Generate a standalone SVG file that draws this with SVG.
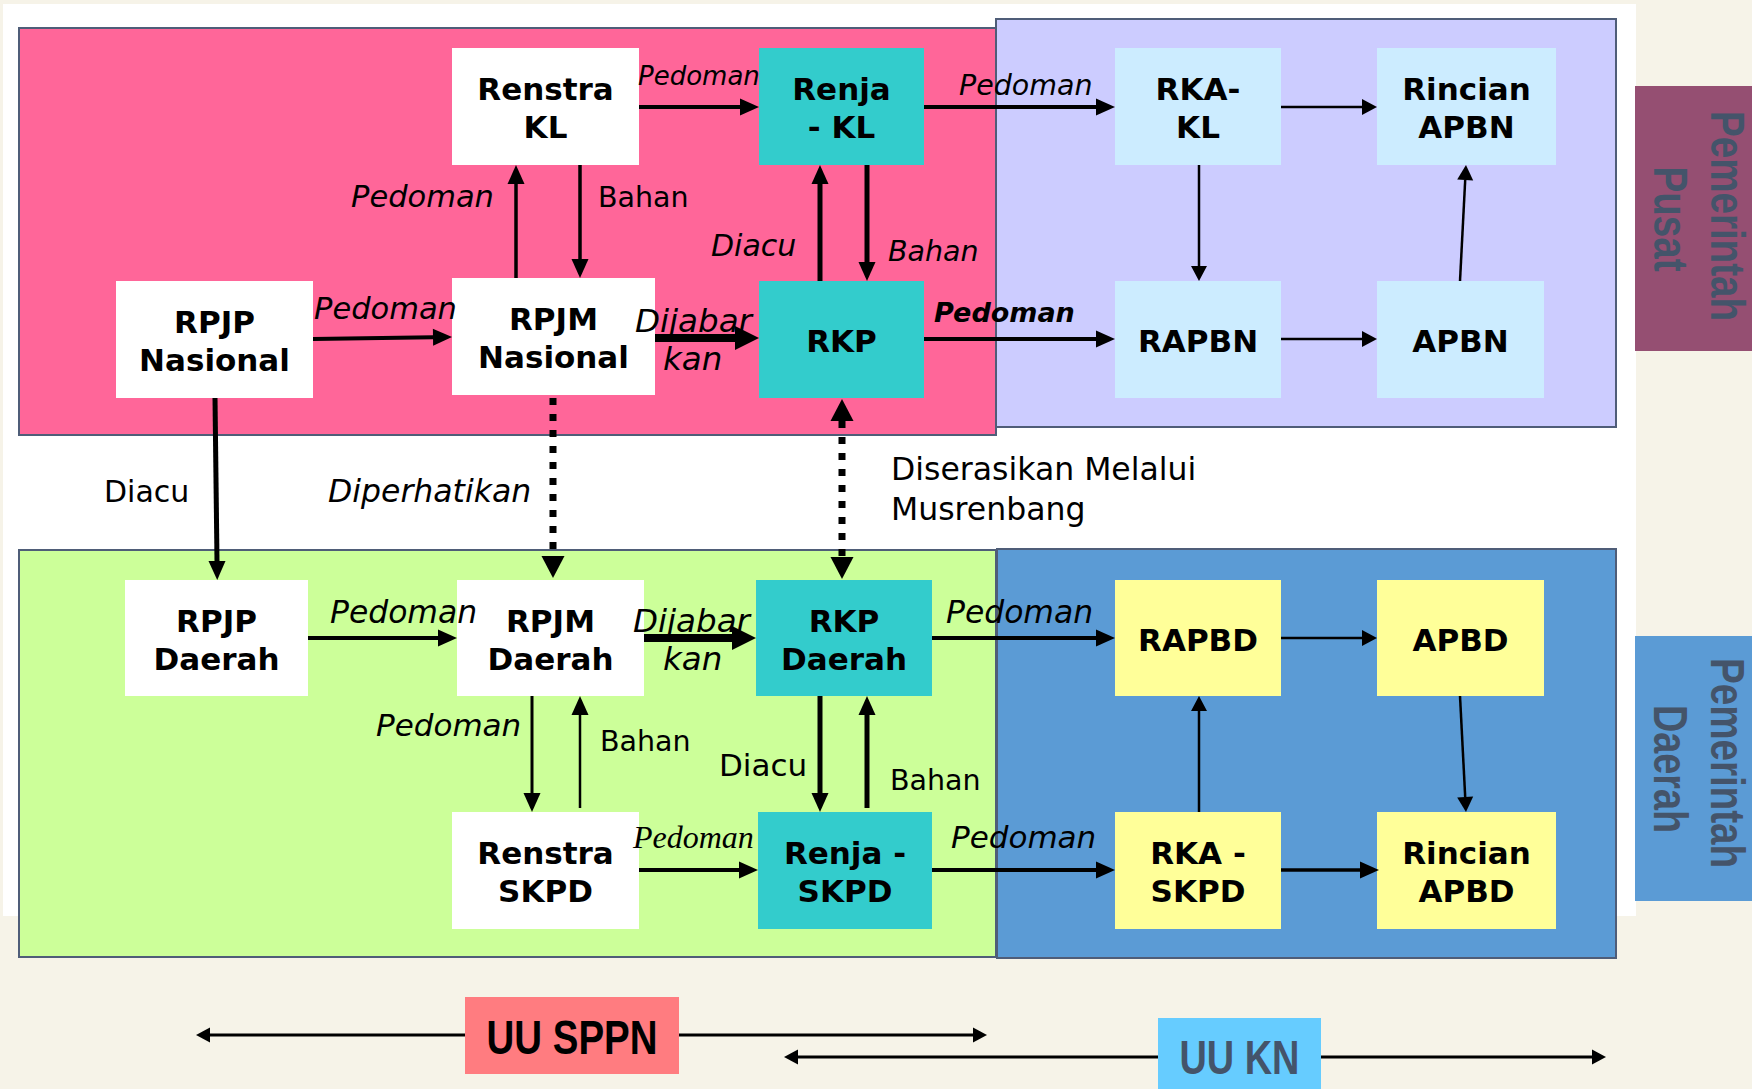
<svg xmlns="http://www.w3.org/2000/svg" width="1752" height="1089" viewBox="0 0 1752 1089">
<style>
.region{stroke:#4f5d78;stroke-width:2}
.node text{font-family:"DejaVu Sans",Verdana,sans-serif;font-weight:bold;font-size:31px;fill:#000;text-anchor:middle}
.lbl{font-family:"DejaVu Sans",Verdana,sans-serif;fill:#000}
.it{font-style:italic}
.ln{stroke:#000;fill:none}
.side{font-family:"Liberation Sans",Arial,sans-serif;font-weight:bold;font-size:48px;fill:#44546A;text-anchor:middle}
.uu{font-family:"Liberation Sans",Arial,sans-serif;font-weight:bold;font-size:49px;text-anchor:middle}
</style>
<defs>
<marker id="am" markerUnits="userSpaceOnUse" markerWidth="19" markerHeight="17" refX="0" refY="8.5" orient="auto" overflow="visible"><path d="M0,0 L19,8.5 L0,17 z" fill="#000"/></marker>
<marker id="as" markerUnits="userSpaceOnUse" markerWidth="15" markerHeight="16" refX="0" refY="8" orient="auto" overflow="visible"><path d="M0,0 L15,8 L0,16 z" fill="#000"/></marker>
<marker id="al" markerUnits="userSpaceOnUse" markerWidth="24" markerHeight="24" refX="0" refY="12" orient="auto" overflow="visible"><path d="M0,0 L24,12 L0,24 z" fill="#000"/></marker>
<marker id="ad" markerUnits="userSpaceOnUse" markerWidth="22" markerHeight="23" refX="0" refY="11.5" orient="auto-start-reverse" overflow="visible"><path d="M0,0 L22,11.5 L0,23 z" fill="#000"/></marker>
<marker id="au" markerUnits="userSpaceOnUse" markerWidth="14" markerHeight="15" refX="0" refY="7.5" orient="auto" overflow="visible"><path d="M0,0 L14,7.5 L0,15 z" fill="#000"/></marker>
</defs>
<rect x="0" y="0" width="1752" height="1089" fill="#F6F3E8"/>
<rect x="3" y="4" width="1633" height="912" fill="#FFFFFF"/>

<g id="region-pusat-sppn"><rect class="region" x="19" y="28" width="977" height="407" fill="#FF6699"/></g>
<g id="region-pusat-kn"><rect class="region" x="996" y="19" width="620" height="408" fill="#CCCCFF"/></g>
<g id="region-daerah-sppn"><rect class="region" x="19" y="550" width="977" height="407" fill="#CCFF99"/></g>
<g id="region-daerah-kn"><rect class="region" x="997" y="549" width="619" height="409" fill="#5B9BD5"/></g>

<g id="label-pusat"><rect x="1635" y="86" width="117" height="265" fill="#954F72"/>
<text class="side" transform="translate(1711,216) rotate(90)" textLength="210" lengthAdjust="spacingAndGlyphs">Pemerintah</text>
<text class="side" transform="translate(1654,219) rotate(90)" textLength="105" lengthAdjust="spacingAndGlyphs">Pusat</text></g>
<g id="label-daerah"><rect x="1635" y="636" width="117" height="265" fill="#5B9BD5"/>
<text class="side" transform="translate(1711,763) rotate(90)" textLength="210" lengthAdjust="spacingAndGlyphs">Pemerintah</text>
<text class="side" transform="translate(1654,769) rotate(90)" textLength="128" lengthAdjust="spacingAndGlyphs">Daerah</text></g>

<g id="renstra-kl" class="node"><rect x="452" y="48" width="187" height="117" fill="#FFFFFF"/><text x="545.5" y="100">Renstra</text><text x="545.5" y="138">KL</text></g>
<g id="renja-kl" class="node"><rect x="759" y="48" width="165" height="117" fill="#33CCCC"/><text x="841.5" y="100">Renja</text><text x="841.5" y="138">- KL</text></g>
<g id="rpjp-nasional" class="node"><rect x="116" y="281" width="197" height="117" fill="#FFFFFF"/><text x="214.5" y="333">RPJP</text><text x="214.5" y="371">Nasional</text></g>
<g id="rpjm-nasional" class="node"><rect x="452" y="278" width="203" height="117" fill="#FFFFFF"/><text x="553.5" y="330">RPJM</text><text x="553.5" y="368">Nasional</text></g>
<g id="rkp" class="node"><rect x="759" y="281" width="165" height="117" fill="#33CCCC"/><text x="841.5" y="352">RKP</text></g>
<g id="rka-kl" class="node"><rect x="1115" y="48" width="166" height="117" fill="#CCECFF"/><text x="1198" y="100">RKA-</text><text x="1198" y="138">KL</text></g>
<g id="rincian-apbn" class="node"><rect x="1377" y="48" width="179" height="117" fill="#CCECFF"/><text x="1466.5" y="100">Rincian</text><text x="1466.5" y="138">APBN</text></g>
<g id="rapbn" class="node"><rect x="1115" y="281" width="166" height="117" fill="#CCECFF"/><text x="1198" y="352">RAPBN</text></g>
<g id="apbn" class="node"><rect x="1377" y="281" width="167" height="117" fill="#CCECFF"/><text x="1460.5" y="352">APBN</text></g>

<g id="rpjp-daerah" class="node"><rect x="125" y="580" width="183" height="116" fill="#FFFFFF"/><text x="216.5" y="632">RPJP</text><text x="216.5" y="670">Daerah</text></g>
<g id="rpjm-daerah" class="node"><rect x="457" y="580" width="187" height="116" fill="#FFFFFF"/><text x="550.5" y="632">RPJM</text><text x="550.5" y="670">Daerah</text></g>
<g id="rkp-daerah" class="node"><rect x="756" y="580" width="176" height="116" fill="#33CCCC"/><text x="844" y="632">RKP</text><text x="844" y="670">Daerah</text></g>
<g id="rapbd" class="node"><rect x="1115" y="580" width="166" height="116" fill="#FFFF99"/><text x="1198" y="651">RAPBD</text></g>
<g id="apbd" class="node"><rect x="1377" y="580" width="167" height="116" fill="#FFFF99"/><text x="1460.5" y="651">APBD</text></g>
<g id="renstra-skpd" class="node"><rect x="452" y="812" width="187" height="117" fill="#FFFFFF"/><text x="545.5" y="864">Renstra</text><text x="545.5" y="902">SKPD</text></g>
<g id="renja-skpd" class="node"><rect x="758" y="812" width="174" height="117" fill="#33CCCC"/><text x="845" y="864">Renja -</text><text x="845" y="902">SKPD</text></g>
<g id="rka-skpd" class="node"><rect x="1115" y="812" width="166" height="117" fill="#FFFF99"/><text x="1198" y="864">RKA -</text><text x="1198" y="902">SKPD</text></g>
<g id="rincian-apbd" class="node"><rect x="1377" y="812" width="179" height="117" fill="#FFFF99"/><text x="1466.5" y="864">Rincian</text><text x="1466.5" y="902">APBD</text></g>

<g id="connectors">
<line class="ln" x1="639" y1="107" x2="740" y2="107" stroke-width="4" marker-end="url(#am)"/>
<line class="ln" x1="924" y1="107" x2="1096" y2="107" stroke-width="4" marker-end="url(#am)"/>
<line class="ln" x1="1281" y1="107" x2="1362" y2="107" stroke-width="2.5" marker-end="url(#as)"/>
<line class="ln" x1="1199" y1="165" x2="1199" y2="266" stroke-width="2.5" marker-end="url(#as)"/>
<line class="ln" x1="1460" y1="281" x2="1465.2" y2="180" stroke-width="2.5" marker-end="url(#as)"/>
<line class="ln" x1="1281" y1="339" x2="1362" y2="339" stroke-width="2.5" marker-end="url(#as)"/>
<line class="ln" x1="924" y1="339" x2="1096" y2="339" stroke-width="4" marker-end="url(#am)"/>
<line class="ln" x1="313" y1="339" x2="433" y2="337.3" stroke-width="4" marker-end="url(#am)"/>
<line class="ln" x1="655" y1="338" x2="735" y2="338" stroke-width="8" marker-end="url(#al)"/>
<line class="ln" x1="516" y1="278" x2="516" y2="184" stroke-width="3.5" marker-end="url(#am)"/>
<line class="ln" x1="580" y1="165" x2="580" y2="259" stroke-width="3.5" marker-end="url(#am)"/>
<line class="ln" x1="820" y1="281" x2="820" y2="184" stroke-width="5" marker-end="url(#am)"/>
<line class="ln" x1="867" y1="165" x2="867" y2="262" stroke-width="5" marker-end="url(#am)"/>
<line class="ln" x1="215" y1="398" x2="217" y2="561" stroke-width="5" marker-end="url(#am)"/>
<line class="ln" x1="553" y1="398" x2="553" y2="556" stroke-width="7" stroke-dasharray="7 9" marker-end="url(#ad)"/>
<line class="ln" x1="842" y1="421" x2="842" y2="557" stroke-width="7" stroke-dasharray="7 9" marker-start="url(#ad)" marker-end="url(#ad)"/>
<line class="ln" x1="308" y1="638" x2="438" y2="638" stroke-width="4" marker-end="url(#am)"/>
<line class="ln" x1="644" y1="638" x2="732" y2="638" stroke-width="8" marker-end="url(#al)"/>
<line class="ln" x1="932" y1="638" x2="1096" y2="638" stroke-width="4" marker-end="url(#am)"/>
<line class="ln" x1="1281" y1="638" x2="1362" y2="638" stroke-width="2.5" marker-end="url(#as)"/>
<line class="ln" x1="1460" y1="696" x2="1465.2" y2="797" stroke-width="2.5" marker-end="url(#as)"/>
<line class="ln" x1="1199" y1="812" x2="1199" y2="711" stroke-width="2.5" marker-end="url(#as)"/>
<line class="ln" x1="1281" y1="870" x2="1360" y2="870" stroke-width="3.5" marker-end="url(#am)"/>
<line class="ln" x1="932" y1="870" x2="1096" y2="870" stroke-width="4" marker-end="url(#am)"/>
<line class="ln" x1="639" y1="870" x2="739" y2="870" stroke-width="4" marker-end="url(#am)"/>
<line class="ln" x1="532" y1="696" x2="532" y2="793" stroke-width="3" marker-end="url(#am)"/>
<line class="ln" x1="580" y1="808" x2="580" y2="715" stroke-width="2.5" marker-end="url(#am)"/>
<line class="ln" x1="820" y1="696" x2="820" y2="793" stroke-width="5" marker-end="url(#am)"/>
<line class="ln" x1="867" y1="808" x2="867" y2="715" stroke-width="5" marker-end="url(#am)"/>
<line class="ln" x1="465" y1="1035" x2="210" y2="1035" stroke-width="3" marker-end="url(#au)"/>
<line class="ln" x1="679" y1="1035" x2="973" y2="1035" stroke-width="3" marker-end="url(#au)"/>
<line class="ln" x1="1158" y1="1057" x2="798" y2="1057" stroke-width="3" marker-end="url(#au)"/>
<line class="ln" x1="1321" y1="1057" x2="1592" y2="1057" stroke-width="3" marker-end="url(#au)"/>
</g>

<g id="labels">
<text class="lbl it" x="638" y="85" style="font-size:26px">Pedoman</text>
<text class="lbl it" x="959" y="95" style="font-size:28.5px">Pedoman</text>
<text class="lbl it" x="934" y="322" style="font-size:27px;font-weight:bold">Pedoman</text>
<text class="lbl it" x="314" y="319" style="font-size:30.5px">Pedoman</text>
<text class="lbl it" x="351" y="207" style="font-size:30.5px">Pedoman</text>
<text class="lbl" x="598" y="207" style="font-size:28.5px">Bahan</text>
<text class="lbl it" x="711" y="256" style="font-size:30px">Diacu</text>
<text class="lbl it" x="888" y="261" style="font-size:28.5px">Bahan</text>
<text class="lbl it" x="635" y="332" style="font-size:32.5px">Dijabar</text>
<text class="lbl it" x="663" y="370" style="font-size:32.5px">kan</text>
<text class="lbl" x="104" y="502" style="font-size:30px">Diacu</text>
<text class="lbl it" x="328" y="502" style="font-size:31.5px">Diperhatikan</text>
<text class="lbl" x="891" y="480" style="font-size:31.5px">Diserasikan Melalui</text>
<text class="lbl" x="891" y="520" style="font-size:31.5px">Musrenbang</text>
<text class="lbl it" x="330" y="623" style="font-size:31.4px">Pedoman</text>
<text class="lbl it" x="633" y="632" style="font-size:32.5px">Dijabar</text>
<text class="lbl it" x="663" y="670" style="font-size:32.5px">kan</text>
<text class="lbl it" x="946" y="623" style="font-size:31.4px">Pedoman</text>
<text class="lbl it" x="376" y="736" style="font-size:31px">Pedoman</text>
<text class="lbl" x="600" y="751" style="font-size:28.5px">Bahan</text>
<text class="lbl" x="719" y="776" style="font-size:31px">Diacu</text>
<text class="lbl" x="890" y="790" style="font-size:28.5px">Bahan</text>
<text x="633" y="848" style="font-family:'Liberation Serif','Times New Roman',serif;font-style:italic;font-size:32px">Pedoman</text>
<text class="lbl it" x="951" y="848" style="font-size:31px">Pedoman</text>
</g>

<g id="uu-sppn"><rect x="465" y="997" width="214" height="77" fill="#FF7C80"/><text class="uu" x="572" y="1054" fill="#000" textLength="171" lengthAdjust="spacingAndGlyphs">UU SPPN</text></g>
<g id="uu-kn"><rect x="1158" y="1018" width="163" height="71" fill="#66CCFF"/><text class="uu" x="1239.5" y="1074" fill="#44546A" textLength="120" lengthAdjust="spacingAndGlyphs">UU KN</text></g>
</svg>
